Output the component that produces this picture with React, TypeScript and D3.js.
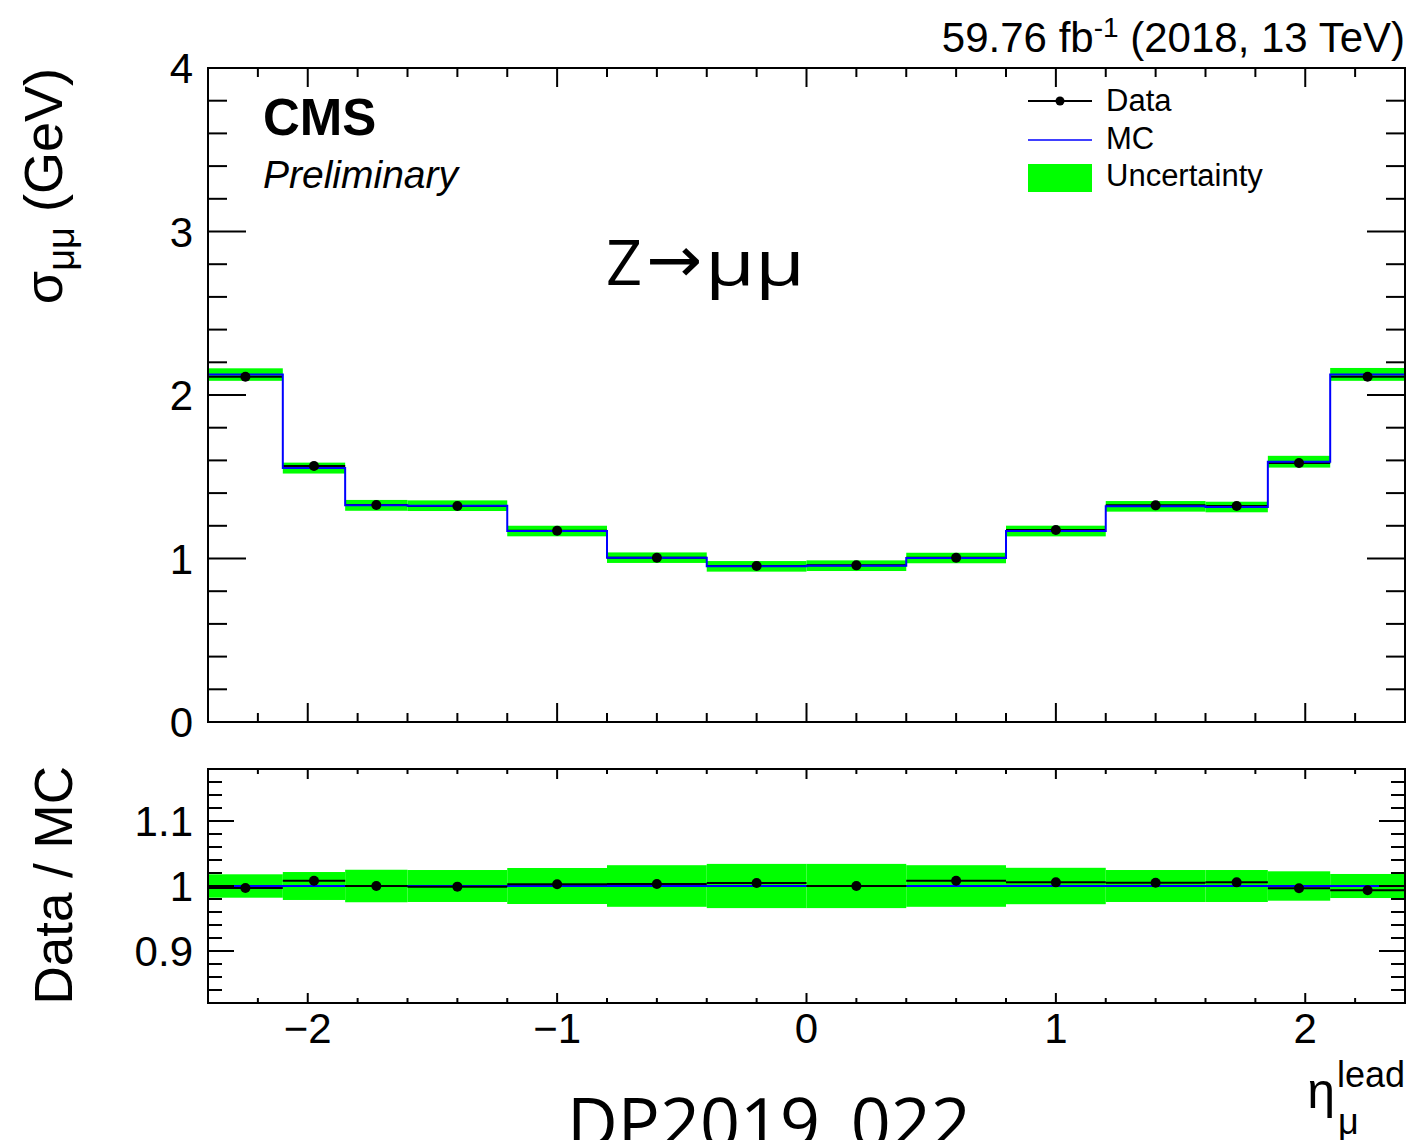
import React from "react";
import * as d3 from "d3";

const binEdges = [-2.4, -2.1, -1.85, -1.6, -1.2, -0.8, -0.4, 0, 0.4, 0.8, 1.2, 1.6, 1.85, 2.1, 2.4];
const mcSigma = [2.125, 1.553, 1.325, 1.323, 1.168, 1.005, 0.952, 0.956, 1.003, 1.168, 1.319, 1.315, 1.592, 2.126];
const dataSigma = [2.112, 1.566, 1.327, 1.321, 1.17, 1.005, 0.954, 0.958, 1.005, 1.174, 1.325, 1.321, 1.584, 2.112];
const dataRatio = [0.997, 1.008, 1.0, 0.999, 1.0026, 1.003, 1.0046, 1.0, 1.008, 1.0056, 1.005, 1.0056, 0.9965, 0.9934];
const relUnc = [0.018, 0.0215, 0.025, 0.0246, 0.0277, 0.032, 0.034, 0.034, 0.032, 0.028, 0.0246, 0.0246, 0.0226, 0.0185];

const xMajorTicks = [-2, -1, 0, 1, 2];
const xTickLabels = ["\u22122", "\u22121", "0", "1", "2"];
const yTopMajor = [0, 1, 2, 3, 4];
const yBotMajor = [0.9, 1.0, 1.1];
const yBotLabels = ["0.9", "1", "1.1"];

const W = 1411;
const H = 1140;
const L = 208;
const R = 1405;
const topT = 68;
const topB = 722;
const botT = 769;
const botB = 1003;

const FONT = "'Liberation Sans', Arial, Helvetica, sans-serif";
const FONT2 = "'Open Sans', 'Noto Sans', sans-serif";
const GREEN = "#00ff00";

export default function App() {
  const x = d3.scaleLinear().domain([-2.4, 2.4]).range([L, R]);
  const yT = d3.scaleLinear().domain([0, 4]).range([topB, topT]);
  const yB = d3.scaleLinear().domain([0.82, 1.18]).range([botB, botT]);

  const bins = mcSigma.map((mc, i) => ({
    lo: binEdges[i],
    hi: binEdges[i + 1],
    c: (binEdges[i] + binEdges[i + 1]) / 2,
    mc,
    data: dataSigma[i],
    ratio: dataRatio[i],
    unc: relUnc[i],
  }));

  const stepPts: [number, number][] = bins.map((b) => [b.lo, b.mc]);
  stepPts.push([binEdges[binEdges.length - 1], mcSigma[mcSigma.length - 1]]);
  const stepLine = d3
    .line<[number, number]>()
    .x((d) => x(d[0]))
    .y((d) => yT(d[1]))
    .curve(d3.curveStepAfter);

  const xMinor = d3.range(-24, 25, 2).map((v) => v / 10);
  const yTopMinor = d3.range(0, 21).map((v) => v / 5);
  const yBotMinor = d3.range(41, 60).map((v) => v / 50);

  const tickStyle = { stroke: "#000", strokeWidth: 2 };

  return (
    <div style={{ position: "absolute", left: 0, top: 0 }}>
      <svg width={W} height={H} viewBox={`0 0 ${W} ${H}`} style={{ display: "block", background: "#fff" }}>
        <rect x={0} y={0} width={W} height={H} fill="#fff" />

        {/* ===== Top panel ===== */}
        {bins.map((b, i) => (
          <rect
            key={"bt" + i}
            x={x(b.lo)}
            width={x(b.hi) - x(b.lo)}
            y={yT(b.mc * (1 + b.unc))}
            height={yT(b.mc * (1 - b.unc)) - yT(b.mc * (1 + b.unc))}
            fill={GREEN}
          />
        ))}
        {bins.map((b, i) => (
          <line key={"dh" + i} x1={x(b.lo)} x2={x(b.hi)} y1={yT(b.data)} y2={yT(b.data)} stroke="#000" strokeWidth={2} />
        ))}
        <path d={stepLine(stepPts) || ""} fill="none" stroke="#0000ff" strokeWidth={2} />
        {bins.map((b, i) => (
          <circle key={"dp" + i} cx={x(b.c)} cy={yT(b.data)} r={5} fill="#000" />
        ))}

        {/* top frame */}
        <rect x={L} y={topT} width={R - L} height={topB - topT} fill="none" stroke="#000" strokeWidth={2} />
        {xMinor.map((v, i) => {
          const major = xMajorTicks.some((m) => Math.abs(m - v) < 1e-6);
          const len = major ? 19 : 9;
          return (
            <g key={"xtt" + i}>
              <line x1={x(v)} x2={x(v)} y1={topB} y2={topB - len} {...tickStyle} />
              <line x1={x(v)} x2={x(v)} y1={topT} y2={topT + len} {...tickStyle} />
            </g>
          );
        })}
        {yTopMinor.map((v, i) => {
          const major = yTopMajor.some((m) => Math.abs(m - v) < 1e-6);
          const len = major ? 38 : 19;
          return (
            <g key={"ytt" + i}>
              <line x1={L} x2={L + len} y1={yT(v)} y2={yT(v)} {...tickStyle} />
              <line x1={R} x2={R - len} y1={yT(v)} y2={yT(v)} {...tickStyle} />
            </g>
          );
        })}
        {yTopMajor.map((v) => (
          <text key={"ytl" + v} x={193} y={yT(v)} dy="0.36em" textAnchor="end" fontFamily={FONT} fontSize={42}>
            {v}
          </text>
        ))}

        {/* y title top */}
        <text transform={`translate(62,${topT}) rotate(-90)`} textAnchor="end" fontFamily={FONT} fontSize={54}>
          <tspan>σ</tspan>
          <tspan fontSize={38} dy={12}>μμ</tspan>
          <tspan dy={-12}> (GeV)</tspan>
        </text>

        {/* CMS labels */}
        <text x={263} y={135} fontFamily={FONT} fontWeight="bold" fontSize={51}>
          CMS
        </text>
        <text x={263} y={188} fontFamily={FONT} fontStyle="italic" fontSize={39}>
          Preliminary
        </text>

        {/* Z -> mu mu */}
        <text x={606} y={285} fontFamily={FONT2} fontSize={63}>
          Z
        </text>
        <text x={646} y={282} fontFamily="'DejaVu Sans', sans-serif" fontSize={64} textLength={56} lengthAdjust="spacingAndGlyphs">
          →
        </text>
        <text x={705} y={285} fontFamily={FONT2} fontSize={63} textLength={100} lengthAdjust="spacingAndGlyphs">
          μμ
        </text>

        {/* lumi text */}
        <text x={R} y={52} textAnchor="end" fontFamily={FONT} fontSize={42}>
          <tspan>59.76 fb</tspan>
          <tspan fontSize={28} dy={-15}>-1</tspan>
          <tspan dy={15}> (2018, 13 TeV)</tspan>
        </text>

        {/* legend */}
        <line x1={1028} x2={1092} y1={101} y2={101} stroke="#000" strokeWidth={2} />
        <circle cx={1060} cy={101} r={4.5} fill="#000" />
        <text x={1106} y={100} dy="0.36em" fontFamily={FONT} fontSize={31}>
          Data
        </text>
        <line x1={1028} x2={1092} y1={140} y2={140} stroke="#0000ff" strokeWidth={1.5} />
        <text x={1106} y={138} dy="0.36em" fontFamily={FONT} fontSize={31}>
          MC
        </text>
        <rect x={1028} y={164} width={64} height={28} fill={GREEN} />
        <text x={1106} y={175} dy="0.36em" fontFamily={FONT} fontSize={31}>
          Uncertainty
        </text>

        {/* ===== Bottom panel ===== */}
        {bins.map((b, i) => (
          <rect
            key={"bb" + i}
            x={x(b.lo)}
            width={x(b.hi) - x(b.lo)}
            y={yB(1 + b.unc)}
            height={yB(1 - b.unc) - yB(1 + b.unc)}
            fill={GREEN}
          />
        ))}
        <line x1={x(-2.4)} x2={x(2.4)} y1={yB(1)} y2={yB(1)} stroke="#0000ff" strokeWidth={2} />
        {bins.map((b, i) => (
          <line key={"rh" + i} x1={x(b.lo)} x2={x(b.hi)} y1={yB(b.ratio)} y2={yB(b.ratio)} stroke="#000" strokeWidth={2} />
        ))}
        {bins.map((b, i) => (
          <circle key={"rp" + i} cx={x(b.c)} cy={yB(b.ratio)} r={5} fill="#000" />
        ))}

        <rect x={L} y={botT} width={R - L} height={botB - botT} fill="none" stroke="#000" strokeWidth={2} />
        {xMinor.map((v, i) => {
          const major = xMajorTicks.some((m) => Math.abs(m - v) < 1e-6);
          const len = major ? 10 : 5;
          return (
            <g key={"xtb" + i}>
              <line x1={x(v)} x2={x(v)} y1={botB} y2={botB - len} {...tickStyle} />
              <line x1={x(v)} x2={x(v)} y1={botT} y2={botT + len} {...tickStyle} />
            </g>
          );
        })}
        {yBotMinor.map((v, i) => {
          const major = yBotMajor.some((m) => Math.abs(m - v) < 1e-6);
          const len = major ? 26 : 14;
          return (
            <g key={"ytb" + i}>
              <line x1={L} x2={L + len} y1={yB(v)} y2={yB(v)} {...tickStyle} />
              <line x1={R} x2={R - len} y1={yB(v)} y2={yB(v)} {...tickStyle} />
            </g>
          );
        })}
        {yBotMajor.map((v, i) => (
          <text key={"ybl" + i} x={193} y={yB(v)} dy="0.36em" textAnchor="end" fontFamily={FONT} fontSize={42}>
            {yBotLabels[i]}
          </text>
        ))}
        {xMajorTicks.map((v, i) => (
          <text key={"xbl" + i} x={x(v)} y={1043} textAnchor="middle" fontFamily={FONT} fontSize={42}>
            {xTickLabels[i]}
          </text>
        ))}

        <text transform={`translate(72,${botT - 3}) rotate(-90)`} textAnchor="end" fontFamily={FONT} fontSize={53}>
          Data / MC
        </text>

        {/* x title */}
        <text x={R} y={1087} textAnchor="end" fontFamily={FONT} fontSize={36}>
          lead
        </text>
        <text x={1335} y={1108} textAnchor="end" fontFamily={FONT} fontSize={50}>
          η
        </text>
        <text x={1338} y={1134} textAnchor="start" fontFamily={FONT} fontSize={36}>
          μ
        </text>

        {/* DP label */}
        <text x={567} y={1148} fontFamily={FONT2} fontSize={70}>
          DP2019_022
        </text>
      </svg>
    </div>
  );
}
